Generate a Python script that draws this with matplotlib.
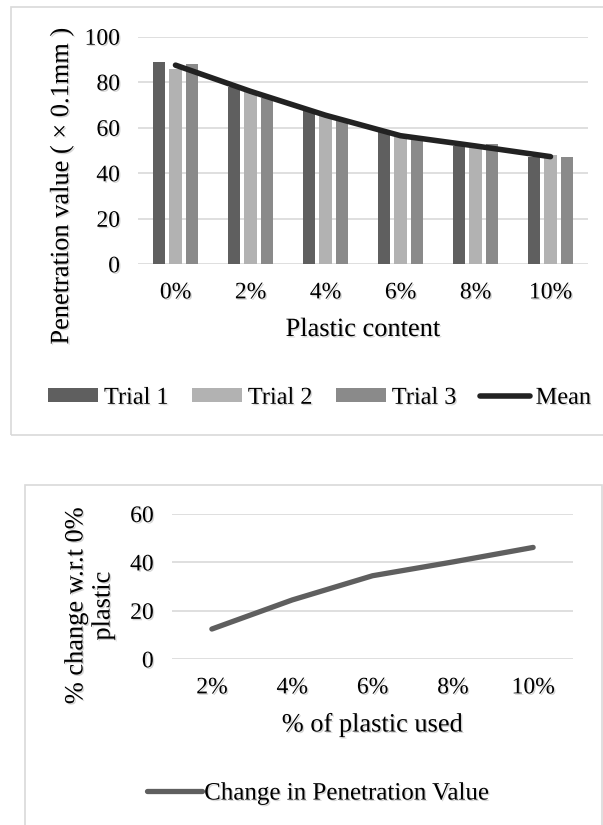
import numpy as np
import matplotlib
matplotlib.use("Agg")
import matplotlib.pyplot as plt
import matplotlib.patheffects as pe
from matplotlib.patches import Rectangle

plt.rcParams['font.family'] = ['Liberation Serif', 'DejaVu Serif']

# data
categories = ['0%', '2%', '4%', '6%', '8%', '10%']
trial1 = [89, 78, 68, 58, 52, 47]
trial2 = [86, 76, 65, 56, 51, 48]
trial3 = [88, 73, 63, 55, 53, 47]
mean_vals = [87.5, 76, 65.5, 56.5, 52, 47.3]

change_cats = ['2%', '4%', '6%', '8%', '10%']
change_vals = [12.5, 24.5, 34.5, 40.2, 46.2]

GRID = '#d9d9d9'
shadow = [pe.SimplePatchShadow(offset=(1, -1), shadow_rgbFace='#888888', alpha=0.35), pe.Normal()]

W, H = 603, 825
fig = plt.figure(figsize=(W / 100, H / 100), dpi=100)

# panel borders
fig.patches.append(Rectangle((11 / W, 1 - 434.7 / H), 700 / W, (434.7 - 7.3) / H,
                             transform=fig.transFigure, fill=False, ec=GRID, lw=1.2))
fig.patches.append(Rectangle((25 / W, -0.1), (601.7 - 25) / W, 1 - 485 / H + 0.1,
                             transform=fig.transFigure, fill=False, ec=GRID, lw=1.2))


def style_axes(ax):
    for s in ax.spines.values():
        s.set_visible(False)
    ax.yaxis.grid(True, color=GRID, lw=1.2)
    ax.set_axisbelow(True)
    ax.tick_params(length=0, labelsize=17, pad=13)
    for t in ax.get_xticklabels() + ax.get_yticklabels():
        t.set_path_effects(shadow)


# top chart
ax1 = fig.add_axes([138 / W, 1 - 264.3 / H, 450 / W, 227.6 / H])
x = np.arange(len(categories))
w = 0.17
b1 = ax1.bar(x - 0.22, trial1, w, color='#5f5f5f', label='Trial 1')
b2 = ax1.bar(x, trial2, w, color='#b2b2b2', label='Trial 2')
b3 = ax1.bar(x + 0.22, trial3, w, color='#8a8a8a', label='Trial 3')
ln, = ax1.plot(x, mean_vals, color='#222222', lw=4, solid_capstyle='round', label='Mean')
ax1.set_xlim(-0.5, len(categories) - 0.5)
ax1.set_ylim(0, 100)
ax1.set_yticks(np.arange(0, 101, 20))
ax1.set_xticks(x)
ax1.set_xticklabels(categories)
style_axes(ax1)
ax1.set_xlabel('Plastic content', fontsize=19, path_effects=shadow)
ax1.xaxis.set_label_coords(0.5, -65.7 / 227.6)
ax1.xaxis.label.set_va('center')
ax1.set_ylabel('Penetration value ( × 0.1mm )', fontsize=19, path_effects=shadow)
ax1.yaxis.set_label_coords((62 - 138) / 450, (264.3 - 186) / 227.6)
ax1.yaxis.label.set_va('center')

leg1 = fig.legend(handles=[b1, b2, b3, ln], loc='center', bbox_to_anchor=(319.5 / W, 1 - 398.3 / H),
                  ncol=4, frameon=False, fontsize=17.5, handlelength=2.06, handleheight=0.47,
                  handletextpad=0.25, columnspacing=0.95)
for t in leg1.get_texts():
    t.set_path_effects(shadow)

# bottom chart
ax2 = fig.add_axes([171.7 / W, 1 - 659.3 / H, 401.6 / W, 145.3 / H])
x2 = np.arange(len(change_cats))
ln2, = ax2.plot(x2, change_vals, color='#5f5f5f', lw=3.8, solid_capstyle='round',
                label='Change in Penetration Value')
ax2.set_xlim(-0.5, len(change_cats) - 0.5)
ax2.set_ylim(0, 60)
ax2.set_yticks(np.arange(0, 61, 20))
ax2.set_xticks(x2)
ax2.set_xticklabels(change_cats)
style_axes(ax2)
ax2.set_xlabel('% of plastic used', fontsize=19, path_effects=shadow)
ax2.xaxis.set_label_coords(0.5, -65.7 / 145.3)
ax2.xaxis.label.set_va('center')
ax2.set_ylabel('% change w.r.t 0%\nplastic', fontsize=19, linespacing=1.3, path_effects=shadow)
ax2.yaxis.set_label_coords((90 - 171.7) / 401.6, (659.3 - 606) / 145.3)
ax2.yaxis.label.set_va('center')

leg2 = fig.legend(handles=[ln2], loc='center', bbox_to_anchor=(318 / W, 1 - 793.3 / H),
                  frameon=False, fontsize=18, handlelength=2.2, handletextpad=0.1)
for t in leg2.get_texts():
    t.set_path_effects(shadow)

fig.savefig('out.png', dpi=100)
